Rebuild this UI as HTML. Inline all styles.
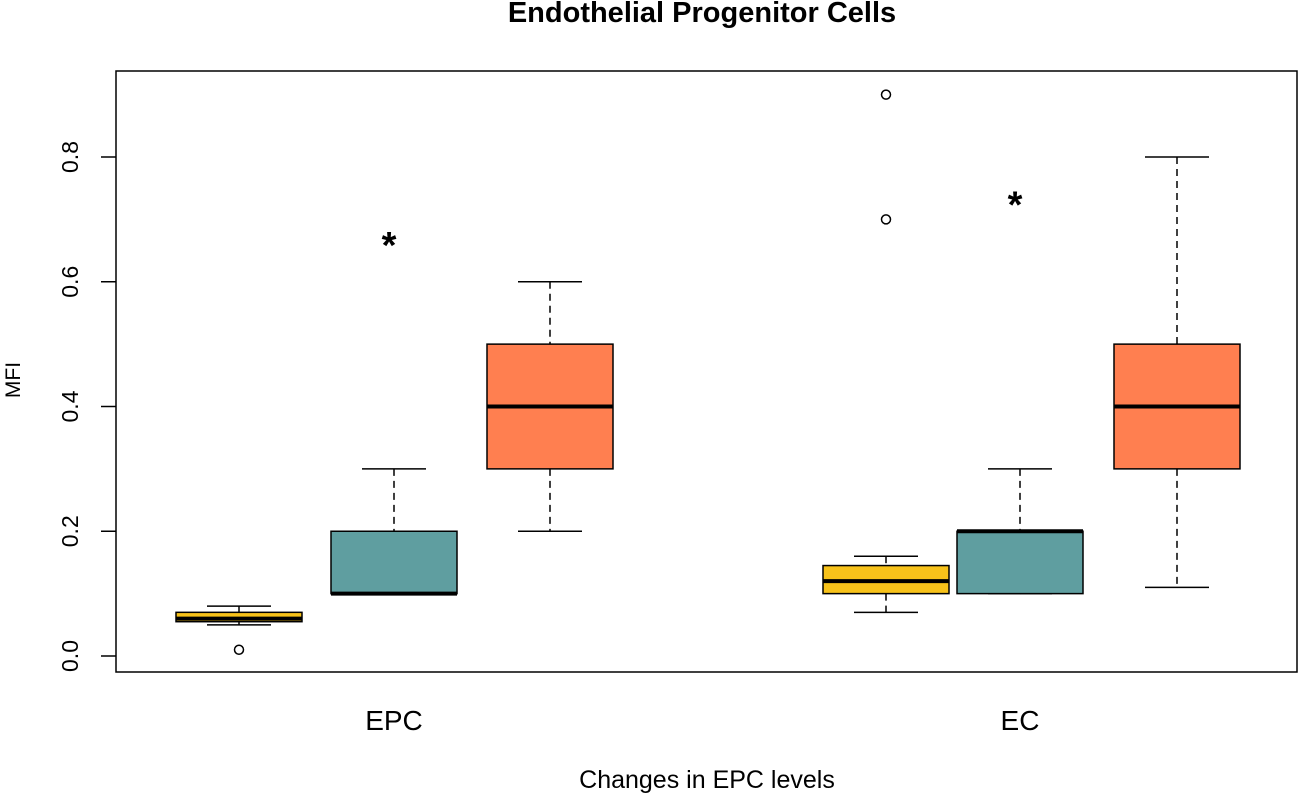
<!DOCTYPE html>
<html><head><meta charset="utf-8"><style>body{margin:0;background:#fff}svg{display:block;font-family:"Liberation Sans",sans-serif}</style></head>
<body>
<svg id="c" width="1299" height="794"></svg>
<script>
const groups=["EPC","EC"];
const seriesColors=["#F7C21A","#5F9EA0","#FF7F50"];
const boxCenters=[239,394,550,886,1020,1177];
const lowW=[0.05,0.1,0.2,0.07,0.1,0.11];
const q1=[0.055,0.1,0.3,0.1,0.1,0.3];
const med=[0.06,0.1,0.4,0.12,0.2,0.4];
const q3=[0.07,0.2,0.5,0.145,0.2,0.5];
const highW=[0.08,0.3,0.6,0.16,0.3,0.8];
const outliers=[[0.01],[],[],[0.7,0.9],[],[]];
const yTicks=[0,0.2,0.4,0.6,0.8];
const yTickLabels=["0.0","0.2","0.4","0.6","0.8"];
const stars=[[394,0.67],[1020,0.735]];
const NS="http://www.w3.org/2000/svg";
const svg=document.getElementById('c');
const y=v=>656-v*623.75;
function mk(t,a,p){const e=document.createElementNS(NS,t);for(const k in a)e.setAttribute(k,a[k]);(p||svg).appendChild(e);return e;}
const t=mk('text',{x:702,y:22,'text-anchor':'middle','font-size':29,'font-weight':'bold'});t.textContent="Endothelial Progenitor Cells";


const frame=mk('rect',{x:116,y:71,width:1181,height:601,fill:'none',stroke:'#000','stroke-width':1.5});


yTicks.forEach((v,i)=>{
 const l=mk('line',{x1:101,x2:116,y1:y(v),y2:y(v),stroke:'#000','stroke-width':1.5});
 
 
 const tx=mk('text',{x:0,y:0,transform:`translate(78,${y(v)}) rotate(-90)`,'text-anchor':'middle','font-size':23});tx.textContent=yTickLabels[i];
 
 
});
const yt=mk('text',{x:0,y:0,transform:'translate(20,380) rotate(-90)','text-anchor':'middle','font-size':21});yt.textContent="MFI";


[394,1020].forEach((x,i)=>{const g=mk('text',{x:x,y:730,'text-anchor':'middle','font-size':28});g.textContent=groups[i];
 
 });
const xt=mk('text',{x:707,y:788,'text-anchor':'middle','font-size':25});xt.textContent="Changes in EPC levels";


const hw=63;
boxCenters.forEach((cx,i)=>{
 const g=mk('g',{});
 
 
 mk('line',{x1:cx,x2:cx,y1:y(highW[i]),y2:y(q3[i]),stroke:'#000','stroke-width':1.5,'stroke-dasharray':'7,5'},g);
 mk('line',{x1:cx,x2:cx,y1:y(q1[i]),y2:y(lowW[i]),stroke:'#000','stroke-width':1.5,'stroke-dasharray':'7,5'},g);
 mk('line',{x1:cx-32,x2:cx+32,y1:y(highW[i]),y2:y(highW[i]),stroke:'#000','stroke-width':1.5},g);
 mk('line',{x1:cx-32,x2:cx+32,y1:y(lowW[i]),y2:y(lowW[i]),stroke:'#000','stroke-width':1.5},g);
 mk('rect',{x:cx-hw,y:y(q3[i]),width:2*hw,height:Math.max(1,y(q1[i])-y(q3[i])),fill:seriesColors[i%3],stroke:'#000','stroke-width':1.5},g);
 mk('line',{x1:cx-hw,x2:cx+hw,y1:y(med[i]),y2:y(med[i]),stroke:'#000','stroke-width':4},g);
 outliers[i].forEach(o=>{const c=mk('circle',{cx:cx,cy:y(o),r:4.5,fill:'none',stroke:'#000','stroke-width':1.5},g);
  
  });
});
stars.forEach(s=>{const st=mk('text',{x:s[0]-5,y:y(s[1])+20,'text-anchor':'middle','font-size':38,'font-weight':'bold'});st.textContent="*";
 
 });
</script>
</body></html>
